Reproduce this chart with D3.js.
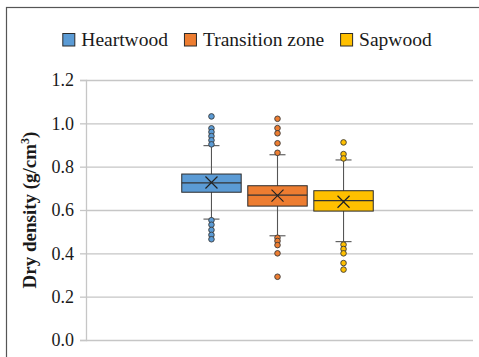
<!DOCTYPE html>
<html>
<head>
<meta charset="utf-8">
<script src="https://cdn.jsdelivr.net/npm/d3@7"></script>
<style>
  body { margin: 0; background: #fff; }
  text { font-family: 'Liberation Serif', 'Times New Roman', serif; fill: #1a1a1a; }
  .grid line { stroke: #c6c6c6; stroke-width: 1.3; }
  .grid path { display: none; }
</style>
</head>
<body>
<div id="chart"></div>
<script>
const series = ['Heartwood', 'Transition zone', 'Sapwood'];
const colors = ['#5b9bd5', '#ed7d31', '#ffc000'];
const yTicks = [0, 0.2, 0.4, 0.6, 0.8, 1.0, 1.2];

const whiskerLow = [0.558, 0.481, 0.454];
const q1 = [0.682, 0.618, 0.595];
const median = [0.725, 0.669, 0.643];
const q3 = [0.766, 0.712, 0.689];
const whiskerHigh = [0.897, 0.855, 0.831];
const means = [0.727, 0.666, 0.638];
const outliersHeart = [1.032, 0.977, 0.960, 0.941, 0.922, 0.903, 0.553, 0.532, 0.508, 0.485, 0.465];
const outliersTrans = [1.021, 0.978, 0.954, 0.908, 0.864, 0.472, 0.457, 0.438, 0.400, 0.292];
const outliersSap = [0.912, 0.858, 0.838, 0.440, 0.420, 0.400, 0.355, 0.325];

const outliers = [outliersHeart, outliersTrans, outliersSap];

const W = 479, H = 357;
const plotLeft = 86, plotRight = 473, plotTop = 80, plotBottom = 340;

const svg = d3.select('#chart')
  .append('svg')
  .attr('width', W)
  .attr('height', H);

// outer frame
svg.append('rect')
  .attr('x', 6.5).attr('y', 7.5)
  .attr('width', W).attr('height', H)
  .attr('fill', 'none')
  .attr('stroke', '#555')
  .attr('stroke-width', 1.2);

const y = d3.scaleLinear().domain([0, 1.2]).range([plotBottom, plotTop]);

const x0 = d3.scaleBand().domain(['all']).range([plotLeft, 469]).paddingOuter(0.5).paddingInner(0);
const x1 = d3.scaleBand().domain(series)
  .range([x0('all'), x0('all') + x0.bandwidth()])
  .paddingInner(0.1).paddingOuter(0);

// gridlines
svg.append('g')
  .attr('class', 'grid')
  .attr('transform', `translate(${plotLeft},0)`)
  .call(d3.axisLeft(y).tickValues(yTicks).tickSize(-(plotRight - plotLeft)).tickFormat(''));

// y axis
const yAxis = svg.append('g')
  .attr('transform', `translate(${plotLeft},0)`)
  .call(d3.axisLeft(y).tickValues(yTicks).tickSize(6).tickPadding(6).tickFormat(d3.format('.1f')));
yAxis.select('.domain').attr('stroke', '#c6c6c6').attr('stroke-width', 1.3);
yAxis.selectAll('.tick line').attr('stroke', '#c6c6c6').attr('stroke-width', 1.3);
yAxis.selectAll('.tick text')
  .attr('font-size', 18)
  .attr('font-family', "'Liberation Serif', serif")
  .attr('fill', '#1a1a1a');

// axis title
const title = svg.append('text')
  .attr('transform', `translate(36, 210) rotate(-90)`)
  .attr('text-anchor', 'middle')
  .attr('font-size', 19)
  .attr('font-weight', 'bold');
title.append('tspan').text('Dry density (g/cm');
title.append('tspan').text('3').attr('font-size', 12).attr('dy', -7);
title.append('tspan').text(')').attr('dy', 7);

// boxes
const data = series.map((s, i) => ({
  name: s, color: colors[i], lo: whiskerLow[i], q1: q1[i], med: median[i],
  q3: q3[i], hi: whiskerHigh[i], mean: means[i], out: outliers[i]
}));

const bw = x1.bandwidth();
const capW = 16;

const g = svg.selectAll('.box')
  .data(data)
  .enter()
  .append('g')
  .attr('class', 'box');

g.append('line') // whisker
  .attr('x1', d => x1(d.name) + bw / 2).attr('x2', d => x1(d.name) + bw / 2)
  .attr('y1', d => y(d.lo)).attr('y2', d => y(d.hi))
  .attr('stroke', '#555').attr('stroke-width', 1.1);

g.append('line') // top cap
  .attr('x1', d => x1(d.name) + bw / 2 - capW / 2).attr('x2', d => x1(d.name) + bw / 2 + capW / 2)
  .attr('y1', d => y(d.hi)).attr('y2', d => y(d.hi))
  .attr('stroke', '#555').attr('stroke-width', 1.1);

g.append('line') // bottom cap
  .attr('x1', d => x1(d.name) + bw / 2 - capW / 2).attr('x2', d => x1(d.name) + bw / 2 + capW / 2)
  .attr('y1', d => y(d.lo)).attr('y2', d => y(d.lo))
  .attr('stroke', '#555').attr('stroke-width', 1.1);

g.append('rect')
  .attr('x', d => x1(d.name))
  .attr('y', d => y(d.q3))
  .attr('width', bw)
  .attr('height', d => y(d.q1) - y(d.q3))
  .attr('fill', d => d.color)
  .attr('stroke', '#2b2b2b')
  .attr('stroke-width', 1);

g.append('line') // median
  .attr('x1', d => x1(d.name)).attr('x2', d => x1(d.name) + bw)
  .attr('y1', d => y(d.med)).attr('y2', d => y(d.med))
  .attr('stroke', '#333').attr('stroke-width', 1.2);

// mean marker (X)
const xs = 6;
g.append('path')
  .attr('d', d => {
    const cx = x1(d.name) + bw / 2, cy = y(d.mean);
    return `M${cx - xs},${cy - xs}L${cx + xs},${cy + xs}M${cx - xs},${cy + xs}L${cx + xs},${cy - xs}`;
  })
  .attr('stroke', '#222')
  .attr('stroke-width', 1.2)
  .attr('fill', 'none');

// outliers
g.each(function (d) {
  d3.select(this).selectAll('circle')
    .data(d.out)
    .enter()
    .append('circle')
    .attr('cx', x1(d.name) + bw / 2)
    .attr('cy', v => y(v))
    .attr('r', 2.8)
    .attr('fill', d.color)
    .attr('stroke', '#3a3a3a')
    .attr('stroke-width', 0.9);
});

// legend
const legend = svg.append('g');
let lx = 0;
series.forEach((s, i) => {
  const item = legend.append('g').attr('transform', `translate(${lx},0)`);
  item.append('rect')
    .attr('x', 0.5).attr('y', 33.5)
    .attr('width', 12).attr('height', 12.5)
    .attr('fill', colors[i])
    .attr('stroke', '#2b2b2b')
    .attr('stroke-width', 1);
  const t = item.append('text')
    .attr('x', 19).attr('y', 46)
    .attr('font-size', 19.5)
    .text(s);
  lx += 19 + t.node().getComputedTextLength() + 16;
});
const legendW = lx - 16;
legend.attr('transform', `translate(${(61 + 433) / 2 - legendW / 2},0)`);
</script>
</body>
</html>
